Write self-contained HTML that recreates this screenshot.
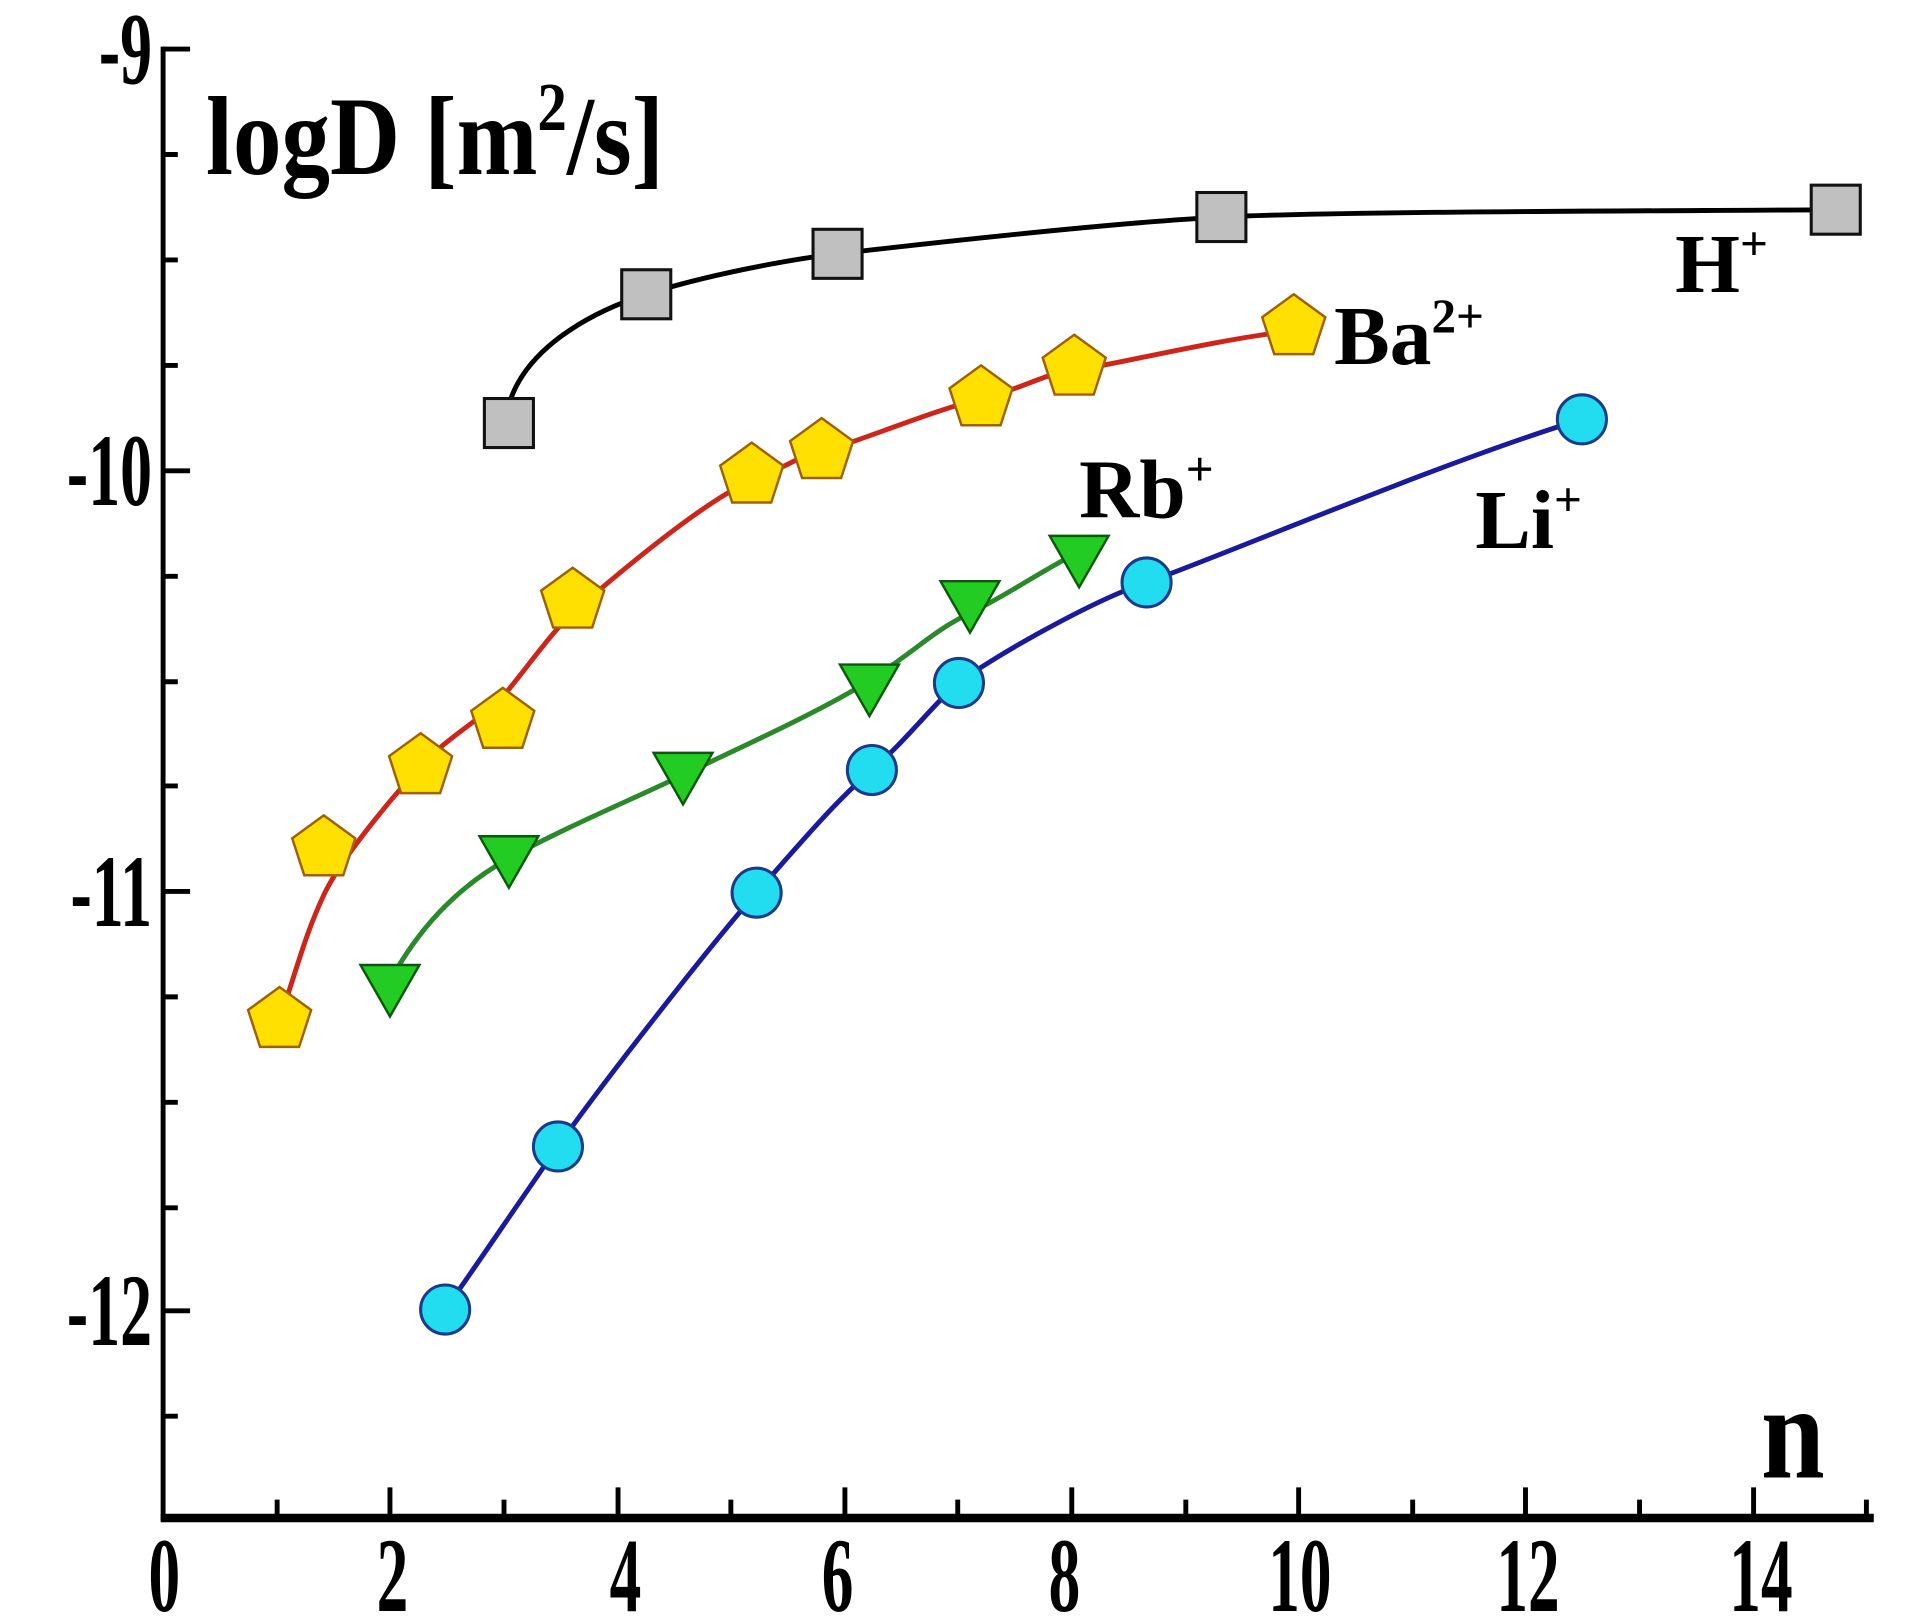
<!DOCTYPE html>
<html><head><style>body{margin:0;background:#fff}svg{display:block}text{font-family:"Liberation Serif",serif;font-weight:bold;fill:#000}</style></head>
<body>
<svg width="1913" height="1621" viewBox="0 0 1560 1322" preserveAspectRatio="none">
<g stroke="#000" stroke-width="4" fill="none">
<line x1="133" y1="38" x2="133" y2="1240"/>
<line x1="131" y1="1238" x2="1528" y2="1238" stroke-width="7"/>
<path d="M133 40h22M133 384h22M133 727h22M133 1069h22M133 126h12M133 212h12M133 298h12M133 470h12M133 556h12M133 641h12M133 813h12M133 899h12M133 985h12M133 1155h12"/>
<path d="M226 1238v-15M318 1238v-25M411 1238v-15M504 1238v-25M596 1238v-15M689 1238v-25M781 1238v-15M874 1238v-25M967 1238v-15M1059 1238v-25M1152 1238v-15M1244 1238v-25M1337 1238v-15M1430 1238v-25M1522 1238v-15"/>
</g>
<g font-size="84" text-anchor="end">
<text transform="translate(124,68) scale(0.62,1)">-9</text>
<text transform="translate(124,412) scale(0.62,1)">-10</text>
<text transform="translate(124,755) scale(0.62,1)">-11</text>
<text transform="translate(124,1097) scale(0.62,1)">-12</text>
</g>
<g font-size="86" text-anchor="middle">
<text transform="translate(134,1314) scale(0.6,1)">0</text>
<text transform="translate(320,1314) scale(0.6,1)">2</text>
<text transform="translate(510,1314) scale(0.6,1)">4</text>
<text transform="translate(683,1314) scale(0.6,1)">6</text>
<text transform="translate(868,1314) scale(0.6,1)">8</text>
<text transform="translate(1060,1314) scale(0.6,1)">10</text>
<text transform="translate(1246,1314) scale(0.6,1)">12</text>
<text transform="translate(1436,1314) scale(0.6,1)">14</text>
</g>
<text transform="translate(168,142) scale(0.86,1)" font-size="92">logD [m<tspan font-size="56" dy="-36">2</tspan><tspan dy="36">/s]</tspan></text>
<text transform="translate(1436,1205) scale(0.85,1)" font-size="110">n</text>
<text x="1366" y="238" font-size="68">H<tspan font-size="40" dy="-26">+</tspan></text>
<text x="1088" y="297" font-size="68">Ba<tspan font-size="40" dy="-26">2+</tspan></text>
<text x="880" y="422" font-size="68">Rb<tspan font-size="40" dy="-26">+</tspan></text>
<text x="1203" y="447" font-size="68">Li<tspan font-size="40" dy="-26">+</tspan></text>
<g fill="none" stroke-width="4" stroke-linejoin="round">
<path d="M415 330C428 285 480 255 527 240S640 212 683 207S900 182 996 177S1400 172 1497 171" stroke="#000"/>
<path stroke="#d02418" d="M228 832C245 780 250 760 264 730S320 650 343 625S395 585 410 568S450 515 467 500S570 410 613 392S650 372 670 368S760 335 800 325S850 305 876 302S1000 275 1055 270"/>
<path stroke="#2a8a2a" d="M318 800C340 760 370 725 415 700S520 650 557 632S670 580 709 555S760 515 791 500S850 465 880 450"/>
<path stroke="#1a1aa0" d="M363 1068C390 1030 420 985 455 935S580 770 617 728S680 655 711 628S760 575 782 557S890 490 935 475S1180 375 1290 342"/>
</g>
<g fill="#c0c0c0" stroke="#111" stroke-width="2.5">
<rect x="395" y="325" width="40" height="40"/><rect x="507" y="220" width="40" height="40"/><rect x="663" y="187" width="40" height="40"/><rect x="976" y="157" width="40" height="40"/><rect x="1477" y="151" width="40" height="40"/>
</g>
<defs>
<polygon id="pg" points="0,-27 25.7,-8.3 15.9,21.8 -15.9,21.8 -25.7,-8.3" fill="#ffe000" stroke="#a06000" stroke-width="2"/>
<polygon id="tr" points="-24,-18 24,-18 0,24" fill="#22cc22" stroke="#0a5a0a" stroke-width="2"/>
<circle id="ci" r="20" fill="#22ddf0" stroke="#1a3a8a" stroke-width="2.5"/>
</defs>
<use href="#pg" x="228" y="832"/><use href="#pg" x="264" y="692"/><use href="#pg" x="343" y="625"/><use href="#pg" x="410" y="588"/><use href="#pg" x="467" y="490"/><use href="#pg" x="613" y="388"/><use href="#pg" x="670" y="368"/><use href="#pg" x="800" y="325"/><use href="#pg" x="876" y="300"/><use href="#pg" x="1055" y="267"/>
<use href="#tr" x="318" y="805"/><use href="#tr" x="415" y="700"/><use href="#tr" x="557" y="632"/><use href="#tr" x="709" y="560"/><use href="#tr" x="791" y="492"/><use href="#tr" x="880" y="455"/>
<use href="#ci" x="363" y="1068"/><use href="#ci" x="455" y="935"/><use href="#ci" x="617" y="728"/><use href="#ci" x="711" y="628"/><use href="#ci" x="782" y="557"/><use href="#ci" x="935" y="475"/><use href="#ci" x="1290" y="342"/>
</svg>
</body></html>
